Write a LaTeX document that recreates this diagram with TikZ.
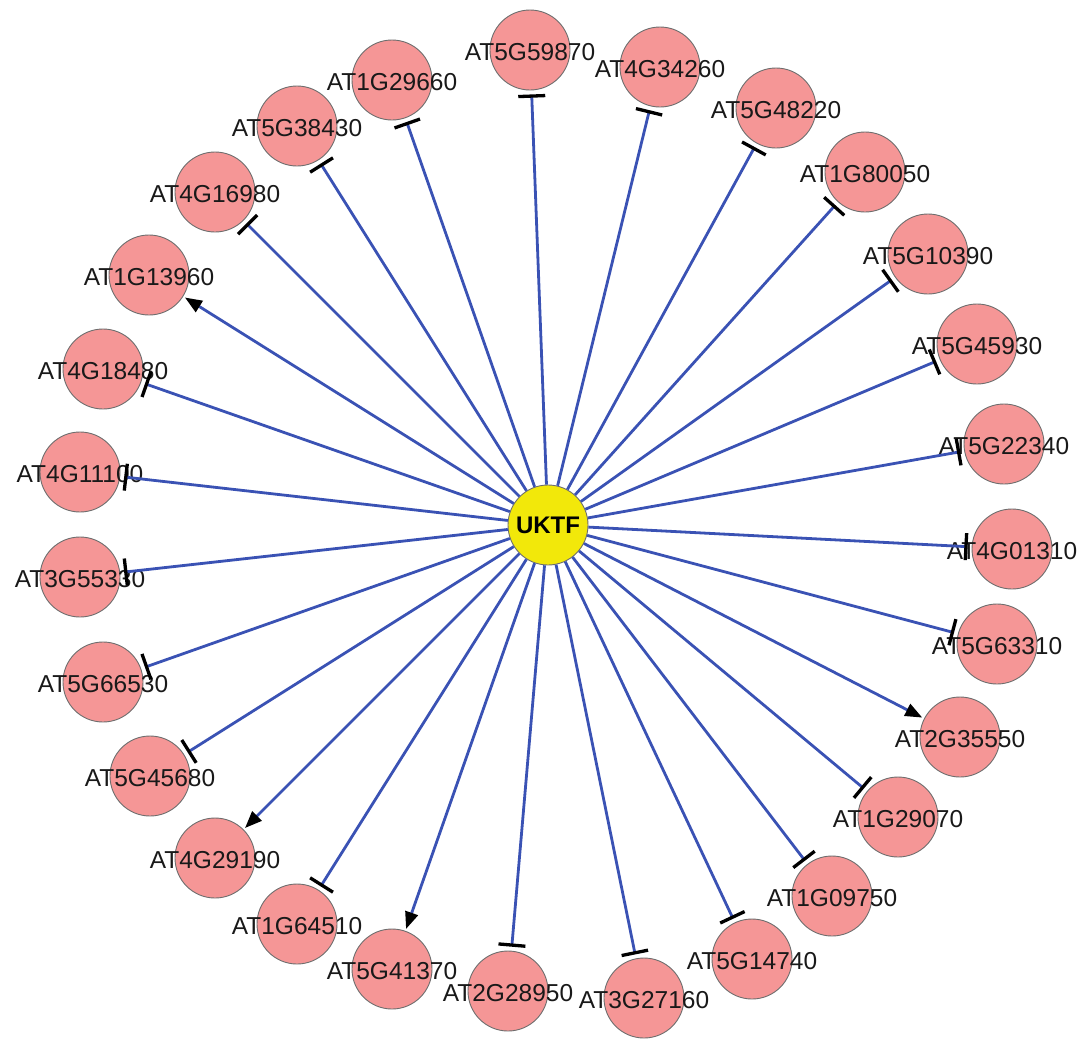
\documentclass[tikz,border=0pt]{standalone}
\usepackage{fontspec}
\setmainfont{Liberation Sans}
\usetikzlibrary{arrows.meta}
\definecolor{nodepink}{RGB}{245,150,150}
\definecolor{nodeedge}{RGB}{110,110,110}
\definecolor{hubyellow}{RGB}{242,232,10}
\definecolor{edgeblue}{RGB}{58,82,180}
\tikzset{
  gene/.style={circle, fill=nodepink, draw=nodeedge, line width=0.9pt, minimum size=80pt, inner sep=0pt},
  genelabel/.style={font=\fontsize{24.5}{28}\selectfont, text=black!90, inner sep=0pt},
  hub/.style={circle, fill=hubyellow, draw=nodeedge, line width=0.9pt, minimum size=80pt, inner sep=0pt, font=\fontsize{24}{28}\selectfont\bfseries},
  inhib/.style={draw=edgeblue, line width=2.8pt, shorten >=4pt, -{Bar[width=27pt, line width=3.3pt, color=black]}},
  activ/.style={draw=edgeblue, line width=2.8pt, shorten >=2pt, -{Triangle[length=17pt, width=13pt, color=black]}}
}
\begin{document}
\begin{tikzpicture}[x=1pt, y=-1pt]
\useasboundingbox (0,0) rectangle (1084,1039);
\node[hub] (uktf) at (548,525) {UKTF};
\foreach \n/\lab/\x/\y in {
  n1/AT5G59870/530/50,
  n2/AT4G34260/660/67,
  n3/AT5G48220/776/108,
  n4/AT1G80050/865/172,
  n5/AT5G10390/928/254,
  n6/AT5G45930/977/344,
  n7/AT5G22340/1004/444,
  n8/AT4G01310/1012/549,
  n9/AT5G63310/997/644,
  n10/AT2G35550/960/737,
  n11/AT1G29070/898/817,
  n12/AT1G09750/832/896,
  n13/AT5G14740/752/959,
  n14/AT3G27160/644/998,
  n15/AT2G28950/508/991,
  n16/AT5G41370/392/969,
  n17/AT1G64510/297/924,
  n18/AT4G29190/215/858,
  n19/AT5G45680/150/776,
  n20/AT5G66530/103/682,
  n21/AT3G55330/80/577,
  n22/AT4G11100/80/472,
  n23/AT4G18480/103/369,
  n24/AT1G13960/149/275,
  n25/AT4G16980/215/192,
  n26/AT5G38430/297/126,
  n27/AT1G29660/392/80}
{
  \node[gene] (\n) at (\x,\y) {};
  \node[genelabel] (\n l) at (\x,\y+2) {\lab};
}
\foreach \n in {n1,n2,n3,n4,n5,n6,n7,n8,n9,n11,n12,n13,n14,n15,n17,n19,n20,n21,n22,n23,n25,n26,n27}
  \draw[inhib] (uktf) -- (\n);
\foreach \n in {n10,n16,n18,n24}
  \draw[activ] (uktf) -- (\n);
\end{tikzpicture}
\end{document}
